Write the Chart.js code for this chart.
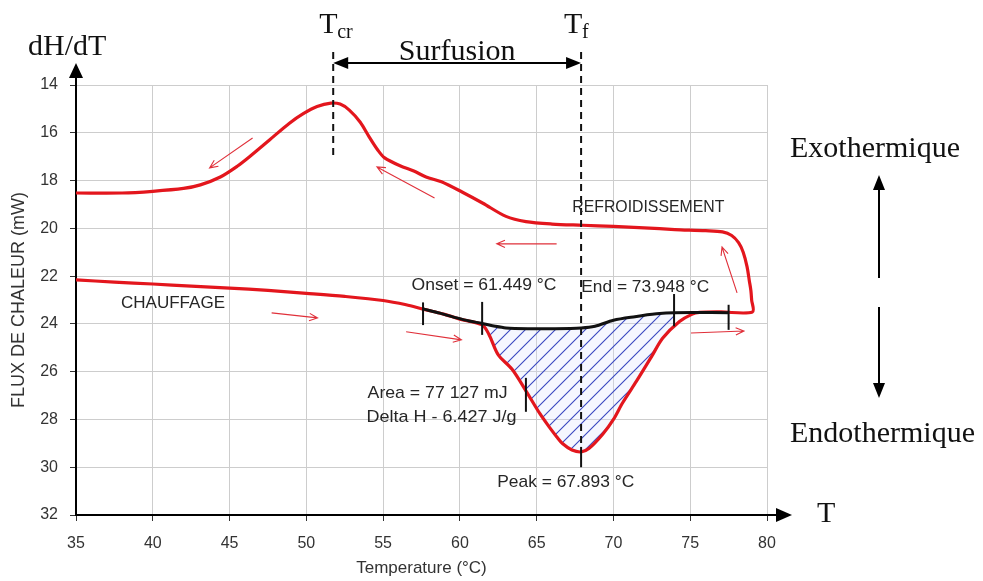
<!DOCTYPE html>
<html>
<head>
<meta charset="utf-8">
<script src="https://cdn.jsdelivr.net/npm/chart.js@4.4.1/dist/chart.umd.min.js"></script>
<style>
  html, body { margin: 0; padding: 0; background: #fff; }
  canvas { display: block; }
</style>
</head>
<body>
<canvas id="dsc" width="983" height="581"></canvas>
<script>
// Heating run (CHAUFFAGE): temperature (°C) and heat flow (mW)
const heatT = [35, 37.5, 40, 42.5, 45, 47.5, 50, 52.5, 55, 56.5, 57.6, 59, 60, 61.45, 61.9, 62.5, 63.4, 64.3, 65.2, 65.8, 66.3, 66.7, 67.3, 67.9, 68.4, 69.3, 70, 70.6, 71.5, 72.5, 73.2, 74.3, 75.1, 75.6, 77, 79.05];
const heatF = [22.16, 22.25, 22.33, 22.42, 22.5, 22.6, 22.72, 22.85, 23.02, 23.2, 23.38, 23.6, 23.8, 24.04, 24.45, 25.3, 25.9, 26.8, 27.75, 28.3, 28.72, 29.02, 29.28, 29.36, 29.22, 28.62, 28.0, 27.3, 26.4, 25.35, 24.6, 23.9, 23.6, 23.52, 23.5, 23.5];

// Cooling run (REFROIDISSEMENT), from the hot end back down to 35 °C
const coolT = [79.0, 78.95, 78.85, 78.7, 78.45, 78.15, 77.7, 77.1, 76, 74, 72, 70, 68, 66, 64.3, 63, 61.5, 60.2, 58.8, 57.8, 57.0, 56.1, 55.1, 54.65, 54.1, 53.5, 52.8, 52.2, 51.6, 50.7, 49.8, 48.9, 47.6, 46.3, 45.5, 44.4, 43.1, 42, 40, 38, 35];
const coolF = [23.0, 22.6, 22.2, 21.6, 21.0, 20.6, 20.3, 20.15, 20.1, 20.05, 19.98, 19.92, 19.87, 19.82, 19.72, 19.5, 18.95, 18.5, 18.05, 17.85, 17.6, 17.38, 17.05, 16.72, 16.18, 15.55, 15.05, 14.8, 14.76, 14.9, 15.2, 15.6, 16.3, 17.0, 17.4, 17.85, 18.18, 18.33, 18.45, 18.52, 18.52];

// Integration baseline under the melting peak
const baseT = [57.6, 58.7, 59.8, 60.6, 61.45, 62.3, 63.0, 64.5, 66, 67.9, 68.8, 70, 71.4, 72.8, 73.95, 77.5];
const baseF = [23.37, 23.55, 23.75, 23.88, 23.98, 24.1, 24.17, 24.2, 24.2, 24.17, 24.1, 23.85, 23.7, 23.58, 23.53, 23.53];

// Axis ticks
const xTicks = [35, 40, 45, 50, 55, 60, 65, 70, 75, 80];
const yTicks = [14, 16, 18, 20, 22, 24, 26, 28, 30, 32];

// Characteristic temperatures (°C)
const T_CR = 51.75;
const T_ONSET = 61.449;
const T_END = 73.948;
const T_PEAK = 67.893;
const T_BASE_START = 57.6;
const T_BASE_END = 77.5;
const T_AREA_MARK = 64.3;

const SANS = "'Liberation Sans', Arial, sans-serif";
const SERIF = "'Liberation Serif', 'Times New Roman', serif";

const toPts = (xs, ys) => xs.map((x, i) => ({ x, y: ys[i] }));
const heatPts = toPts(heatT, heatF);
const coolPts = toPts(coolT, coolF);
const basePts = toPts(baseT, baseF);

// linear interpolation on a monotonic-x series
function interp(xs, ys, x) {
  for (let i = 0; i < xs.length - 1; i++) {
    if (x >= xs[i] && x <= xs[i + 1]) {
      const f = (x - xs[i]) / (xs[i + 1] - xs[i]);
      return ys[i] + f * (ys[i + 1] - ys[i]);
    }
  }
  return ys[ys.length - 1];
}
function slice(xs, ys, a, b) {
  const out = [{ x: a, y: interp(xs, ys, a) }];
  xs.forEach((x, i) => { if (x > a && x < b) out.push({ x, y: ys[i] }); });
  out.push({ x: b, y: interp(xs, ys, b) });
  return out;
}

// diagonal hatch pattern for the integrated peak area
function hatchPattern(ctx) {
  const S = 15;
  const pc = document.createElement('canvas');
  pc.width = S; pc.height = S;
  const g = pc.getContext('2d');
  g.fillStyle = 'rgba(215,222,255,0.25)';
  g.fillRect(0, 0, S, S);
  g.strokeStyle = '#3a48c0';
  g.lineWidth = 1.1;
  g.beginPath();
  g.moveTo(-1, 1); g.lineTo(1, -1);
  g.moveTo(0, S); g.lineTo(S, 0);
  g.moveTo(S - 1, S + 1); g.lineTo(S + 1, S - 1);
  g.stroke();
  return ctx.createPattern(pc, 'repeat');
}

// text squeezed or stretched to a given pixel width
function fitText(ctx, text, x, y, width, font, color) {
  ctx.save();
  ctx.font = font;
  ctx.fillStyle = color;
  ctx.textBaseline = 'middle';
  ctx.textAlign = 'left';
  const w = ctx.measureText(text).width;
  ctx.translate(x, y);
  ctx.scale(width / w, 1);
  ctx.fillText(text, 0, 0);
  ctx.restore();
}

function openArrow(ctx, x1, y1, x2, y2, color) {
  const a = Math.atan2(y2 - y1, x2 - x1);
  const L = 9, ang = 0.42;
  ctx.save();
  ctx.strokeStyle = color;
  ctx.lineWidth = 1.1;
  ctx.beginPath();
  ctx.moveTo(x1, y1); ctx.lineTo(x2, y2);
  ctx.moveTo(x2 - L * Math.cos(a - ang), y2 - L * Math.sin(a - ang));
  ctx.lineTo(x2, y2);
  ctx.lineTo(x2 - L * Math.cos(a + ang), y2 - L * Math.sin(a + ang));
  ctx.stroke();
  ctx.restore();
}

function solidHead(ctx, x, y, angle, len, half) {
  ctx.beginPath();
  ctx.moveTo(x, y);
  ctx.lineTo(x - len * Math.cos(angle) + half * Math.sin(angle), y - len * Math.sin(angle) - half * Math.cos(angle));
  ctx.lineTo(x - len * Math.cos(angle) - half * Math.sin(angle), y - len * Math.sin(angle) + half * Math.cos(angle));
  ctx.closePath();
  ctx.fill();
}

// direction arrows along the runs (temperature °C, heat flow mW)
const flowArrows = [
  { from: [46.5, 16.22], to: [43.7, 17.47] },
  { from: [58.35, 18.73], to: [54.6, 17.43] },
  { from: [66.3, 20.65], to: [62.4, 20.65] },
  { from: [78.05, 22.7], to: [77.07, 20.78] },
  { from: [47.74, 23.54], to: [50.73, 23.75] },
  { from: [56.5, 24.33], to: [60.1, 24.67] },
  { from: [75.05, 24.38], to: [78.5, 24.3] }
];

// vertical marks on the baseline / peak (temperature, heat-flow span)
const marks = [
  { t: T_BASE_START, a: 23.1, b: 24.05 },
  { t: T_ONSET, a: 23.08, b: 24.46 },
  { t: T_END, a: 22.75, b: 24.1 },
  { t: T_BASE_END, a: 23.2, b: 24.25 },
  { t: T_AREA_MARK, a: 26.26, b: 27.68 },
  { t: T_PEAK, a: 29.15, b: 30.0 }
];

// labels inside the plot: left edge (°C), vertical centre (mW), width (px)
const plotLabels = [
  { text: 'REFROIDISSEMENT', t: 67.32, f: 19.1, w: 152 },
  { text: 'CHAUFFAGE', t: 37.93, f: 23.12, w: 104 },
  { text: 'Onset = 61.449 °C', t: 56.85, f: 22.37, w: 145 },
  { text: 'End = 73.948 °C', t: 67.9, f: 22.45, w: 128 },
  { text: 'Area = 77 127 mJ', t: 53.99, f: 26.9, w: 140 },
  { text: 'Delta H - 6.427 J/g', t: 53.92, f: 27.93, w: 150 },
  { text: 'Peak = 67.893 °C', t: 62.43, f: 30.65, w: 137 }
];

const hatchPlugin = {
  id: 'peakArea',
  beforeDatasetsDraw(chart) {
    const { ctx, scales: { x, y } } = chart;
    const top = slice(heatT, heatF, T_ONSET, T_END);
    const bot = slice(baseT, baseF, T_ONSET, T_END).reverse();
    ctx.save();
    ctx.beginPath();
    top.concat(bot).forEach((p, i) => {
      const px = x.getPixelForValue(p.x), py = y.getPixelForValue(p.y);
      if (i === 0) ctx.moveTo(px, py); else ctx.lineTo(px, py);
    });
    ctx.closePath();
    ctx.fillStyle = hatchPattern(ctx);
    ctx.fill();
    ctx.restore();
  }
};

const annotationPlugin = {
  id: 'dscAnnotations',
  afterDraw(chart) {
    const { ctx, chartArea: ca, scales: { x, y } } = chart;
    const X = v => x.getPixelForValue(v);
    const Y = v => y.getPixelForValue(v);

    // axis arrows
    ctx.save();
    ctx.strokeStyle = '#000';
    ctx.fillStyle = '#000';
    ctx.lineWidth = 2;
    ctx.beginPath();
    ctx.moveTo(ca.left, ca.top); ctx.lineTo(ca.left, ca.top - 12);
    ctx.moveTo(ca.right, ca.bottom); ctx.lineTo(ca.right + 12, ca.bottom);
    ctx.stroke();
    solidHead(ctx, ca.left, ca.top - 22, -Math.PI / 2, 15, 7);
    solidHead(ctx, ca.right + 25, ca.bottom, 0, 16, 7);
    ctx.restore();

    // marks on baseline and peak
    ctx.save();
    ctx.strokeStyle = '#111';
    ctx.lineWidth = 2;
    marks.forEach(m => {
      ctx.beginPath();
      ctx.moveTo(X(m.t), Y(m.a)); ctx.lineTo(X(m.t), Y(m.b));
      ctx.stroke();
    });
    ctx.restore();

    // dashed markers for crystallisation and melting temperatures
    ctx.save();
    ctx.strokeStyle = '#111';
    ctx.lineWidth = 2;
    ctx.setLineDash([7, 5]);
    const yTop = ca.top - 33;
    ctx.beginPath();
    ctx.moveTo(X(T_CR), yTop); ctx.lineTo(X(T_CR), Y(17.05));
    ctx.moveTo(X(T_PEAK), yTop); ctx.lineTo(X(T_PEAK), Y(29.15));
    ctx.stroke();
    ctx.restore();

    // supercooling double arrow
    ctx.save();
    ctx.strokeStyle = '#000';
    ctx.fillStyle = '#000';
    ctx.lineWidth = 2;
    const ya = ca.top - 22;
    ctx.beginPath();
    ctx.moveTo(X(T_CR) + 8, ya); ctx.lineTo(X(T_PEAK) - 8, ya);
    ctx.stroke();
    solidHead(ctx, X(T_CR), ya, Math.PI, 15, 6);
    solidHead(ctx, X(T_PEAK), ya, 0, 15, 6);
    ctx.restore();

    // flow direction arrows
    flowArrows.forEach(a => openArrow(ctx, X(a.from[0]), Y(a.from[1]), X(a.to[0]), Y(a.to[1]), '#e0303a'));

    // labels in the plot
    plotLabels.forEach(l => fitText(ctx, l.text, X(l.t), Y(l.f), l.w, '17px ' + SANS, '#262626'));

    // serif annotations around the plot
    ctx.save();
    ctx.fillStyle = '#111';
    ctx.textBaseline = 'alphabetic';
    ctx.textAlign = 'left';
    ctx.font = '30px ' + SERIF;
    ctx.fillText('dH/dT', 28, 55);
    ctx.fillText('T', X(T_CR) - 14, 33);
    ctx.fillText('T', X(T_PEAK) - 17, 33);
    ctx.fillText('T', ca.right + 50, 522);
    ctx.fillText('Exothermique', ca.right + 23, 157);
    ctx.fillText('Endothermique', ca.right + 23, 442);
    ctx.textAlign = 'center';
    ctx.fillText('Surfusion', (X(T_CR) + X(T_PEAK)) / 2, 60);
    ctx.textAlign = 'left';
    ctx.font = '20px ' + SERIF;
    ctx.fillText('cr', X(T_CR) + 4, 38);
    ctx.fillText('f', X(T_PEAK) + 1, 38);
    ctx.restore();

    // exo / endo direction arrows
    ctx.save();
    ctx.strokeStyle = '#000';
    ctx.fillStyle = '#000';
    ctx.lineWidth = 2;
    const xa = ca.right + 112;
    ctx.beginPath();
    ctx.moveTo(xa, 278); ctx.lineTo(xa, 186);
    ctx.moveTo(xa, 307); ctx.lineTo(xa, 388);
    ctx.stroke();
    solidHead(ctx, xa, 175, -Math.PI / 2, 15, 6);
    solidHead(ctx, xa, 398, Math.PI / 2, 15, 6);
    ctx.restore();
  }
};

new Chart(document.getElementById('dsc'), {
  type: 'scatter',
  data: {
    datasets: [
      {
        label: 'Ligne de base',
        data: basePts,
        showLine: true,
        borderColor: '#111',
        borderWidth: 3,
        pointRadius: 0,
        tension: 0.3,
        order: 0
      },
      {
        label: 'Flux de chaleur',
        data: heatPts.concat(coolPts),
        showLine: true,
        borderColor: '#e3161d',
        borderWidth: 3.2,
        pointRadius: 0,
        tension: 0.3,
        borderJoinStyle: 'round',
        order: 1
      }
    ]
  },
  options: {
    responsive: false,
    animation: false,
    devicePixelRatio: 1,
    layout: { padding: { top: 85, right: 216, left: 0, bottom: 0 } },
    plugins: { legend: { display: false }, tooltip: { enabled: false } },
    scales: {
      x: {
        type: 'linear',
        min: 35, max: 80,
        afterBuildTicks: s => { s.ticks = xTicks.map(v => ({ value: v })); },
        afterFit: s => { s.height = 66; },
        grid: { color: '#cdcdcd', lineWidth: 1, tickLength: 6, tickColor: '#333' },
        border: { color: '#000', width: 2 },
        ticks: { padding: 13, color: '#333', font: { family: SANS, size: 16 }, maxRotation: 0 },
        title: { display: true, text: 'Temperature (°C)', color: '#333', font: { family: SANS, size: 17 }, padding: { top: 0, bottom: 2 } }
      },
      y: {
        type: 'linear',
        reverse: true,
        min: 14, max: 32,
        afterBuildTicks: s => { s.ticks = yTicks.map(v => ({ value: v })); },
        afterFit: s => { s.width = 76; },
        grid: { color: '#cdcdcd', lineWidth: 1, tickLength: 6, tickColor: '#333' },
        border: { color: '#000', width: 2 },
        ticks: { padding: 12, color: '#333', font: { family: SANS, size: 16 } },
        title: { display: true, text: 'FLUX DE CHALEUR (mW)', color: '#333', font: { family: SANS, size: 18 }, padding: { top: 8, bottom: 0 } }
      }
    }
  },
  plugins: [hatchPlugin, annotationPlugin]
});
</script>
</body>
</html>
